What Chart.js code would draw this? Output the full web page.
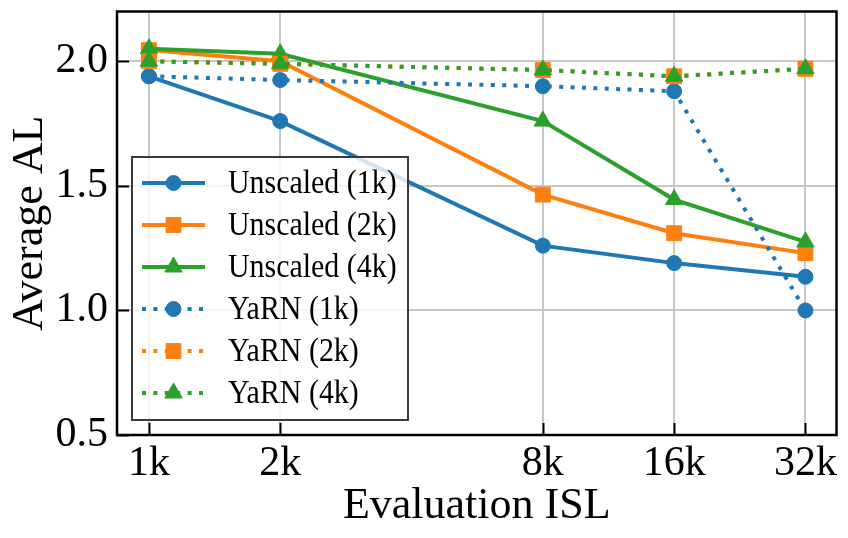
<!DOCTYPE html>
<html>
<head>
<meta charset="utf-8">
<script src="https://cdn.jsdelivr.net/npm/chart.js@4/dist/chart.umd.min.js"></script>
<style>
  html, body { margin: 0; padding: 0; background: #fff; }
  #wrap { width: 848px; height: 538px; }
</style>
</head>
<body>
<div id="wrap"><canvas id="myChart" width="848" height="538"></canvas></div>
<script>
// data
var islValues = [1, 2, 8, 16, 32]; // evaluation ISL in k tokens
var yTickValues = [0.5, 1.0, 1.5, 2.0];
var seriesNames = ['Unscaled (1k)', 'Unscaled (2k)', 'Unscaled (4k)', 'YaRN (1k)', 'YaRN (2k)', 'YaRN (4k)'];
var unscaled1k = [1.94, 1.76, 1.26, 1.19, 1.135];
var unscaled2k = [2.045, 2.0, 1.465, 1.31, 1.23];
var unscaled4k = [2.05, 2.03, 1.76, 1.445, 1.275];
var yarn1k = [1.94, 1.925, 1.90, 1.88, 1.0];
var yarn2k = [2.0, 1.99, 1.965, 1.94, 1.97];
var yarn4k = [2.0, 1.99, 1.965, 1.94, 1.97];

var BLUE = '#1f77b4', ORANGE = '#ff7f0e', GREEN = '#2ca02c';
var FONT = "'Liberation Serif', 'Times New Roman', serif";
var DOTS = [4, 7.4];

function pts(vals) {
  return vals.map(function (v, i) { return { x: islValues[i], y: v }; });
}

function makeSet(i, vals, color, shape, dotted) {
  var r = shape === 'circle' ? 7.5 : (shape === 'rect' ? 10.5 : 10);
  return {
    label: seriesNames[i],
    data: pts(vals),
    borderColor: color,
    backgroundColor: color,
    borderWidth: 4,
    borderDash: dotted ? DOTS : [],
    borderCapStyle: 'butt',
    pointStyle: shape,
    pointRadius: r,
    pointHoverRadius: r,
    pointBackgroundColor: color,
    pointBorderColor: color,
    pointBorderWidth: 1,
    tension: 0,
    order: 5 - i
  };
}

function drawMarker(ctx, shape, x, y, r, color) {
  ctx.save();
  ctx.setLineDash([]);
  ctx.fillStyle = color;
  ctx.strokeStyle = color;
  ctx.lineWidth = 1;
  ctx.beginPath();
  if (shape === 'circle') {
    ctx.arc(x, y, r, 0, Math.PI * 2);
  } else if (shape === 'rect') {
    var s = Math.SQRT1_2 * r;
    ctx.rect(x - s, y - s, 2 * s, 2 * s);
  } else {
    var a = -Math.PI / 2;
    ctx.moveTo(x + Math.cos(a) * r, y + Math.sin(a) * r);
    a += 2 * Math.PI / 3;
    ctx.lineTo(x + Math.cos(a) * r, y + Math.sin(a) * r);
    a += 2 * Math.PI / 3;
    ctx.lineTo(x + Math.cos(a) * r, y + Math.sin(a) * r);
  }
  ctx.closePath();
  ctx.fill();
  ctx.stroke();
  ctx.restore();
}

// box, inward ticks and legend like matplotlib
var framePlugin = {
  id: 'frame',
  afterDatasetsDraw: function (chart) {
    var ctx = chart.ctx, a = chart.chartArea;
    var xs = chart.scales.x, ys = chart.scales.y;
    ctx.save();
    ctx.strokeStyle = '#000';
    ctx.lineWidth = 2;
    islValues.forEach(function (v) {
      var px = Math.round(xs.getPixelForValue(v)) + 0.5;
      ctx.beginPath();
      ctx.moveTo(px, a.bottom);
      ctx.lineTo(px, a.bottom - 12);
      ctx.stroke();
    });
    yTickValues.forEach(function (v) {
      var py = Math.round(ys.getPixelForValue(v)) + 0.5;
      ctx.beginPath();
      ctx.moveTo(a.left, py);
      ctx.lineTo(a.left + 12, py);
      ctx.stroke();
    });

    // legend
    var lx = 132, ly = 157, lw = 276, lh = 263;
    ctx.fillStyle = 'rgba(255,255,255,0.8)';
    ctx.fillRect(lx, ly, lw, lh);
    ctx.strokeStyle = '#3a3a3a';
    ctx.lineWidth = 2;
    ctx.strokeRect(lx, ly, lw, lh);
    ctx.textBaseline = 'middle';
    ctx.textAlign = 'left';
    chart.data.datasets.forEach(function (ds, i) {
      var ry = 183 + i * 42;
      ctx.save();
      ctx.strokeStyle = ds.borderColor;
      ctx.lineWidth = ds.borderWidth;
      ctx.lineCap = 'butt';
      ctx.setLineDash(ds.borderDash);
      ctx.beginPath();
      ctx.moveTo(142, ry);
      ctx.lineTo(205, ry);
      ctx.stroke();
      ctx.restore();
      drawMarker(ctx, ds.pointStyle, 173.5, ry, ds.pointRadius, ds.borderColor);
      // slightly condensed serif text, as in the figure
      ctx.save();
      ctx.translate(228, ry + 1);
      ctx.scale(0.88, 1);
      ctx.font = '34px ' + FONT;
      ctx.fillStyle = '#000';
      ctx.fillText(ds.label, 0, 0);
      ctx.restore();
    });

    ctx.strokeStyle = '#000';
    ctx.lineWidth = 2.5;
    ctx.strokeRect(a.left, a.top, a.right - a.left, a.bottom - a.top);
    ctx.restore();
  }
};

var ctx = document.getElementById('myChart').getContext('2d');
var myChart = new Chart(ctx, {
  type: 'line',
  data: {
    datasets: [
      makeSet(0, unscaled1k, BLUE, 'circle', false),
      makeSet(1, unscaled2k, ORANGE, 'rect', false),
      makeSet(2, unscaled4k, GREEN, 'triangle', false),
      makeSet(3, yarn1k, BLUE, 'circle', true),
      makeSet(4, yarn2k, ORANGE, 'rect', true),
      makeSet(5, yarn4k, GREEN, 'triangle', true)
    ]
  },
  options: {
    responsive: false,
    animation: false,
    layout: { padding: { left: 0, top: 7, right: 9, bottom: 0 } },
    plugins: {
      legend: { display: false },
      tooltip: { enabled: false }
    },
    scales: {
      x: {
        type: 'logarithmic',
        min: 0.845,
        max: 37.7,
        afterBuildTicks: function (s) {
          s.ticks = islValues.map(function (v) { return { value: v }; });
        },
        afterFit: function (s) {
          s.height = 103;
          s.paddingLeft = 0;
          s.paddingRight = 0;
        },
        ticks: {
          autoSkip: false,
          maxRotation: 0,
          padding: 4,
          color: '#000',
          font: { family: FONT, size: 42 },
          callback: function (v) { return v + 'k'; }
        },
        grid: { color: '#c8c8c8', lineWidth: 2, drawTicks: false },
        border: { display: false },
        title: {
          display: true,
          text: 'Evaluation ISL',
          color: '#000',
          font: { family: FONT, size: 44, lineHeight: 1 },
          padding: { top: 0, bottom: 10 }
        }
      },
      y: {
        min: 0.5,
        max: 2.2,
        afterBuildTicks: function (s) {
          s.ticks = yTickValues.map(function (v) { return { value: v }; });
        },
        afterFit: function (s) {
          s.width = 117;
          s.paddingTop = 0;
          s.paddingBottom = 0;
        },
        ticks: {
          padding: 9,
          color: '#000',
          font: { family: FONT, size: 42 },
          callback: function (v) { return Number(v).toFixed(1); }
        },
        grid: { color: '#c8c8c8', lineWidth: 2, drawTicks: false },
        border: { display: false },
        title: {
          display: true,
          text: 'Average AL',
          color: '#000',
          font: { family: FONT, size: 44, lineHeight: 1 },
          padding: { top: 8, bottom: 0 }
        }
      }
    }
  },
  plugins: [framePlugin]
});
</script>
</body>
</html>
